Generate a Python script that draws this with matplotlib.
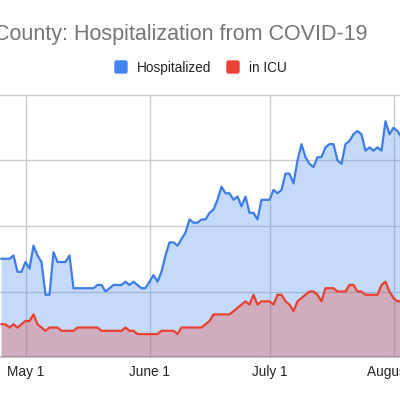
import matplotlib.pyplot as plt
import matplotlib.dates as mdates
import numpy as np
import pandas as pd
from matplotlib.patches import FancyBboxPatch

plt.rcParams['font.family'] = ['Liberation Sans', 'DejaVu Sans']

# daily values from Apr 25 to Aug 3
dates = pd.date_range("2020-04-25", periods=101)
hospitalized = [30, 30, 30, 31, 26, 26, 29, 27, 34, 31,
                29, 19, 19, 32, 29, 29, 29, 31, 21, 21,
                21, 21, 21, 21, 22, 22, 20, 21, 22, 22,
                22, 23, 22, 23, 22, 21, 21, 23, 25, 23,
                26, 31, 35, 35, 34, 36, 38, 42, 41, 41,
                42, 42, 44, 45, 48, 52, 50, 50, 48, 49,
                46, 49, 44, 44, 42, 48, 48, 48, 51, 50,
                51, 56, 56, 53, 60, 65, 61, 59, 58, 61,
                61, 64, 65, 65, 60, 59, 65, 66, 68, 69,
                68, 63, 64, 63, 64, 63, 72, 68, 70, 69,
                67]
in_icu = [10, 10, 9, 10, 9, 10, 11, 11, 13, 10,
          9, 8, 9, 9, 9, 8, 8, 8, 8, 9,
          9, 9, 9, 9, 9, 8, 8, 8, 8, 8,
          8, 9, 8, 8, 7, 7, 7, 7, 7, 7,
          8, 8, 8, 8, 7, 9, 9, 9, 9, 9,
          9, 10, 11, 13, 13, 13, 13, 13, 14, 15,
          16, 17, 16, 19, 16, 17, 17, 17, 16, 19,
          19, 17, 16, 14, 17, 18, 19, 20, 20, 19,
          17, 21, 21, 21, 20, 20, 20, 22, 22, 20,
          20, 19, 19, 19, 19, 22, 23, 20, 18, 17,
          17]
tick_dates = pd.to_datetime(["2020-05-01", "2020-06-01", "2020-07-01", "2020-08-01"])
tick_labels = ["May 1", "June 1", "July 1", "August 1"]
y_ticks = [0, 20, 40, 60, 80]

blue = "#3d7de8"
red = "#e8412f"

fig = plt.figure(figsize=(4, 4), dpi=100)
ax = fig.add_axes([0, 0.1075, 1, 0.655])

ax.fill_between(dates, hospitalized, 0, color="#4285f4", alpha=0.3, linewidth=0, zorder=2)
ax.plot(dates, hospitalized, color=blue, linewidth=1.6, zorder=4)
ax.fill_between(dates, in_icu, 0, color="#ea4335", alpha=0.3, linewidth=0, zorder=3)
ax.plot(dates, in_icu, color=red, linewidth=1.6, zorder=4)

may1 = mdates.date2num(tick_dates[0])
ax.set_xlim(may1 - 6.375, may1 + 93.625)
ax.set_ylim(0, 80)
ax.set_yticks(y_ticks)
ax.set_yticklabels([])
ax.set_xticks(tick_dates)
ax.set_xticklabels(tick_labels)
ax.tick_params(length=0, pad=5.5, labelsize=9.8, labelcolor="#222222")
ax.tick_params(axis="y", left=False)
ax.grid(True, color="#cccccc", linewidth=1, zorder=1)
for ln in ax.get_xgridlines() + ax.get_ygridlines():
    ln.set_clip_on(False)
for s in ax.spines.values():
    s.set_visible(False)
ax.axhline(0, color="#333333", linewidth=1, zorder=5)

fig.text(368 / 400, 1 - 40 / 400, "County: Hospitalization from COVID-19",
         ha="right", va="baseline", fontsize=15.5, color="#757575")

# legend
for x0, col, label in [(115, "#4285f4", "Hospitalized"), (227, "#ea4335", "in ICU")]:
    fig.patches.append(FancyBboxPatch((x0 / 400, 1 - 73 / 400), 12 / 400, 12 / 400,
                                      boxstyle="round,pad=0,rounding_size=0.004",
                                      transform=fig.transFigure, color=col))
    fig.text((x0 + 22) / 400, 1 - 72 / 400, label, ha="left", va="baseline",
             fontsize=9.8, color="#222222")

fig.savefig("out.png", dpi=100)
